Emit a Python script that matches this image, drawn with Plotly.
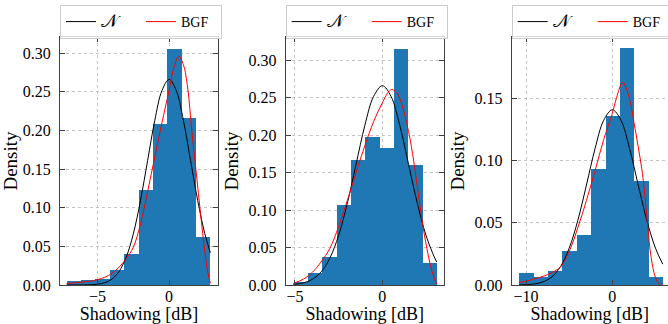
import plotly.graph_objects as go

FONT = "Liberation Serif"
BAR_COLOR = "#1f77b4"

# ---------------- data ----------------
# Panel 1
p1_edges = [-7.17, -6.16, -5.16, -4.15, -3.15, -2.14, -1.14, -0.13, 0.87, 1.88, 2.89]
p1_density = [0.005, 0.006, 0.008, 0.019, 0.040, 0.123, 0.209, 0.306, 0.216, 0.062]
p1_norm_x = [-7.17, -6.5, -6.0, -5.5, -5.0, -4.5, -4.0, -3.5, -3.0, -2.5, -2.0, -1.5, -1.0, -0.5, 0.0,
             0.5, 1.0, 1.5, 2.0, 2.5, 2.89]
p1_norm_y = [0.0000, 0.0000, 0.0001, 0.0003, 0.0010, 0.0030, 0.0076, 0.0175, 0.0360, 0.0663, 0.1094,
             0.1613, 0.2131, 0.2517, 0.2660, 0.2517, 0.2131, 0.1613, 0.1094, 0.0663, 0.0416]
p1_bgf_x = [-7.17, -6.5, -6.0, -5.5, -5.0, -4.5, -4.0, -3.5, -3.0, -2.5, -2.0, -1.5, -1.0, -0.5, 0.0,
            0.3, 0.68, 1.0, 1.3, 1.6, 1.9, 2.2, 2.5, 2.7, 2.89]
p1_bgf_y = [0.002, 0.003, 0.004, 0.005, 0.007, 0.010, 0.015, 0.023, 0.034, 0.049, 0.079, 0.121, 0.166,
            0.210, 0.252, 0.279, 0.296, 0.285, 0.255, 0.197, 0.145, 0.092, 0.043, 0.017, 0.002]

# Panel 2
p2_edges = [-5.10, -4.28, -3.46, -2.63, -1.81, -0.99, -0.17, 0.65, 1.48, 2.30, 3.12]
p2_density = [0.004, 0.016, 0.037, 0.107, 0.167, 0.198, 0.183, 0.315, 0.160, 0.029]
p2_norm_x = [-5.1, -4.5, -4.0, -3.5, -3.0, -2.5, -2.0, -1.5, -1.0, -0.5, 0.0, 0.5, 1.0, 1.5, 2.0,
             2.5, 3.0, 3.12]
p2_norm_y = [0.0008, 0.0030, 0.0076, 0.0175, 0.0360, 0.0663, 0.1094, 0.1613, 0.2131, 0.2517, 0.2660,
             0.2517, 0.2131, 0.1613, 0.1094, 0.0663, 0.0360, 0.0306]
p2_bgf_x = [-5.1, -4.5, -4.0, -3.5, -3.0, -2.5, -2.0, -1.5, -1.0, -0.5, 0.0, 0.3, 0.54, 0.8, 1.0,
            1.5, 1.8, 2.1, 2.4, 2.7, 2.9, 3.12]
p2_bgf_y = [0.002, 0.008, 0.017, 0.031, 0.049, 0.078, 0.113, 0.150, 0.186, 0.218, 0.243, 0.256, 0.261,
            0.257, 0.249, 0.205, 0.165, 0.115, 0.068, 0.032, 0.014, 0.001]

# Panel 3
p3_edges = [-10.81, -9.15, -7.48, -5.82, -4.15, -2.49, -0.82, 0.84, 2.51, 4.17, 5.84]
p3_density = [0.010, 0.0065, 0.011, 0.027, 0.040, 0.0935, 0.136, 0.191, 0.0838, 0.0062]
p3_norm_x = [-10.81, -10.0, -9.0, -8.0, -7.0, -6.0, -5.0, -4.0, -3.0, -2.0, -1.0, 0.0, 1.0, 2.0, 3.0,
             4.0, 5.0, 5.84]
p3_norm_y = [0.0001, 0.0003, 0.0009, 0.0026, 0.0066, 0.0149, 0.0296, 0.0519, 0.0804, 0.1098, 0.1325,
             0.1410, 0.1325, 0.1098, 0.0804, 0.0519, 0.0296, 0.0168]
p3_bgf_x = [-10.81, -10.0, -9.0, -8.0, -7.0, -6.0, -5.0, -4.0, -3.0, -2.0, -1.0, 0.0, 0.5, 1.2, 1.9,
            2.5, 3.0, 3.4, 3.7, 4.06, 4.5, 5.0, 5.5, 5.84]
p3_bgf_y = [0.002, 0.003, 0.005, 0.007, 0.010, 0.0145, 0.027, 0.046, 0.068, 0.092, 0.117, 0.138, 0.151,
            0.163, 0.152, 0.131, 0.111, 0.094, 0.077, 0.050, 0.022, 0.006, 0.0, 0.0]

legend_labels = ['<span style="font-size:18px">𝒩</span>', "BGF"]
x_title = "Shadowing [dB]"
y_title = "Density"

# ---------------- layout constants ----------------
W, H = 668, 324
x_domains_px = [(60, 218), (285.7, 444), (511.7, 668)]
y_top_px, y_bot_px = 37, 285
x_ranges = [[-7.63, 3.42], [-5.53, 3.53], [-11.66, 6.45]]
y_ranges = [[0, 0.321], [0, 0.331], [0, 0.1995]]
x_dticks = [5, 5, 10]
y_dticks = [0.05, 0.05, 0.05]

panels = [
    (p1_edges, p1_density, p1_norm_x, p1_norm_y, p1_bgf_x, p1_bgf_y),
    (p2_edges, p2_density, p2_norm_x, p2_norm_y, p2_bgf_x, p2_bgf_y),
    (p3_edges, p3_density, p3_norm_x, p3_norm_y, p3_bgf_x, p3_bgf_y),
]

fig = go.Figure()
layout = {}
for i, (edges, dens, nx, ny, bx, by) in enumerate(panels):
    sfx = "" if i == 0 else str(i + 1)
    centers = [(a + b) / 2 for a, b in zip(edges[:-1], edges[1:])]
    widths = [b - a for a, b in zip(edges[:-1], edges[1:])]
    leg = "legend" + sfx
    fig.add_trace(go.Bar(x=centers, y=dens, width=widths,
                         marker=dict(color=BAR_COLOR, line=dict(width=0)),
                         showlegend=False, xaxis="x" + sfx, yaxis="y" + sfx))
    fig.add_trace(go.Scatter(x=nx, y=ny, mode="lines", name=legend_labels[0],
                             line=dict(color="black", width=1, shape="spline", smoothing=1.0),
                             legend=leg, xaxis="x" + sfx, yaxis="y" + sfx))
    fig.add_trace(go.Scatter(x=bx, y=by, mode="lines", name=legend_labels[1],
                             line=dict(color="red", width=1, shape="spline", smoothing=1.0),
                             legend=leg, xaxis="x" + sfx, yaxis="y" + sfx))

    d0, d1 = x_domains_px[i]
    common = dict(showline=True, linecolor="#404040", linewidth=1.2,
                  ticks="inside", ticklen=5, tickwidth=1, tickcolor="#404040",
                  showgrid=True, gridcolor="#c4c4c4", griddash="dot", gridwidth=0.8,
                  zeroline=False, layer="above traces", automargin=False,
                  tickfont=dict(family=FONT, size=16, color="black"))
    layout["xaxis" + sfx] = dict(
        common, domain=[d0 / W, d1 / W], range=x_ranges[i], dtick=x_dticks[i], tick0=0,
        mirror="ticks", anchor="y" + sfx,
        title=dict(text=x_title, font=dict(family=FONT, size=18, color="black"), standoff=1),
        ticklabelstandoff=-3)
    layout["yaxis" + sfx] = dict(
        common, domain=[1 - y_bot_px / H, 1 - y_top_px / H], range=y_ranges[i],
        dtick=y_dticks[i], tick0=0, tickformat=".2f",
        mirror=("ticks" if i < 2 else False), anchor="x" + sfx,
        title=dict(text=y_title, font=dict(family=FONT, size=19, color="black"), standoff=4),
        ticklabelstandoff=5)
    layout[leg] = dict(
        x=d0 / W, xanchor="left", y=1 - 5 / H, yanchor="top", orientation="h",
        bgcolor="rgba(255,255,255,0.8)", bordercolor="#cccccc", borderwidth=1,
        font=dict(family=FONT, size=14, color="black"),
        entrywidth=35, entrywidthmode="pixels", itemwidth=30, tracegroupgap=0)

fig.update_layout(**layout)
fig.update_layout(width=W, height=H, margin=dict(l=0, r=0, t=0, b=0, autoexpand=False),
                  plot_bgcolor="white", paper_bgcolor="white",
                  barmode="overlay", bargap=0, font=dict(family=FONT))
fig.write_html("out.html")
